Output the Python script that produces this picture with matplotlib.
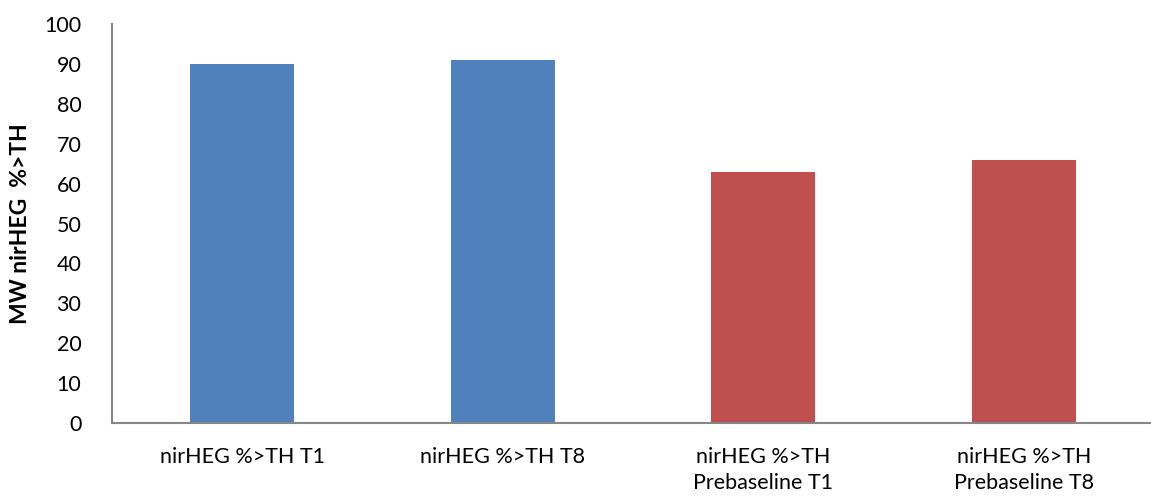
import matplotlib
matplotlib.use("Agg")
import matplotlib.pyplot as plt

categories = ["nirHEG %>TH T1", "nirHEG %>TH T8",
              "nirHEG %>TH\nPrebaseline T1", "nirHEG %>TH\nPrebaseline T8"]
values = [90, 91, 63, 66]
colors = ["#4F81BD", "#4F81BD", "#C0504D", "#C0504D"]
yticks = list(range(0, 101, 10))

plt.rcParams['font.family'] = ['Lato', 'DejaVu Sans']

W, H = 1151, 501
fig = plt.figure(figsize=(W / 100, H / 100), dpi=100)
left, right, bottom, top = 112, 1154, 423, 24
ax = fig.add_axes([left / W, 1 - bottom / H, (right - left) / W, (bottom - top) / H])

x = range(len(categories))
ax.bar(x, values, width=0.4, color=colors)

ax.set_xlim(-0.5, len(categories) - 0.5)
ax.set_ylim(0, 100)
ax.set_yticks(yticks)
ax.set_xticks(list(x))
ax.set_xticklabels(categories, fontsize=15.5, linespacing=1.4)
ax.tick_params(axis='y', length=0, labelsize=15.5, colors='black', pad=22)
ax.tick_params(axis='x', length=0, colors='black', pad=17)

for s in ['top', 'right']:
    ax.spines[s].set_visible(False)
for s in ['left', 'bottom']:
    ax.spines[s].set_color('#868686')
    ax.spines[s].set_linewidth(1.5)

ax.set_ylabel("MW nirHEG  %>TH", fontsize=16.5, fontweight='bold')
ax.yaxis.set_label_coords(-(112 - 31) / (right - left), 0.5)

fig.savefig("out.png", dpi=100)
